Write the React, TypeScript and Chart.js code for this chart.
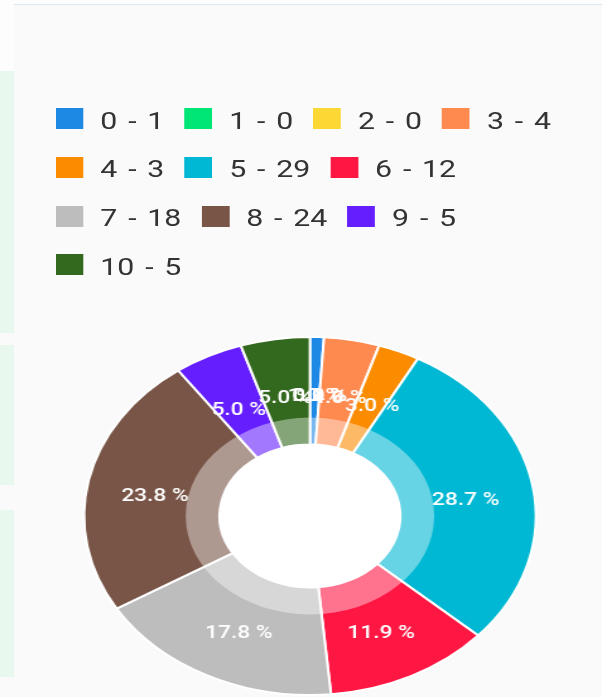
import React, { useEffect, useRef } from "react";
import { Chart, registerables } from "chart.js";

Chart.register(...registerables);

// ---- data ----
const categories = ["0", "1", "2", "3", "4", "5", "6", "7", "8", "9", "10"];
const values = [1, 0, 0, 4, 3, 29, 12, 18, 24, 5, 5];
const sliceColors = [
  "#1E88E5",
  "#00E676",
  "#FDD835",
  "#FF8A50",
  "#FB8C00",
  "#00B8D4",
  "#FF1744",
  "#BDBDBD",
  "#795548",
  "#651FFF",
  "#33691E",
];
const legendLabels = categories.map((c, i) => `${c} - ${values[i]}`);

// natural (unstretched) width; the screenshot is stretched horizontally
const NAT_W = 477;
const NAT_H = 697;
const SX = 602 / NAT_W;

export default function App() {
  const canvasRef = useRef<HTMLCanvasElement | null>(null);
  const legendRef = useRef<HTMLDivElement | null>(null);

  useEffect(() => {
    const canvas = canvasRef.current;
    const legendEl = legendRef.current;
    if (!canvas || !legendEl) return;

    const htmlLegend = {
      id: "htmlLegend",
      afterUpdate(chart: any) {
        while (legendEl.firstChild) legendEl.removeChild(legendEl.firstChild);
        const items = chart.options.plugins.legend.labels.generateLabels(chart);
        items.forEach((item: any) => {
          const row = document.createElement("div");
          row.style.display = "flex";
          row.style.alignItems = "center";
          row.style.height = "48.7px";
          const box = document.createElement("span");
          box.style.display = "inline-block";
          box.style.width = "21.9px";
          box.style.height = "21px";
          box.style.background = item.fillStyle;
          box.style.marginRight = "13.5px";
          box.style.flex = "0 0 auto";
          const txt = document.createElement("span");
          txt.textContent = item.text;
          txt.style.font = "400 24px Roboto, 'Noto Sans', sans-serif";
          txt.style.wordSpacing = "2.6px";
          txt.style.color = "#333333";
          txt.style.whiteSpace = "nowrap";
          txt.style.transform = "translateY(2px)";
          row.appendChild(box);
          row.appendChild(txt);
          legendEl.appendChild(row);
        });
      },
    };

    const ringAndLabels = {
      id: "ringAndLabels",
      beforeDatasetsDraw(chart: any) {
        const arcs = chart.getDatasetMeta(0).data as any[];
        if (!arcs.length) return;
        const p = arcs[0].getProps(["x", "y", "innerRadius"], true);
        const ctx = chart.ctx;
        ctx.save();
        ctx.beginPath();
        ctx.arc(p.x, p.y, p.innerRadius, 0, Math.PI * 2);
        ctx.fillStyle = "#ffffff";
        ctx.fill();
        ctx.restore();
      },
      afterDatasetsDraw(chart: any) {
        const arcs = chart.getDatasetMeta(0).data as any[];
        if (!arcs.length) return;
        const ctx = chart.ctx;
        const p0 = arcs[0].getProps(["x", "y", "innerRadius", "outerRadius"], true);
        // translucent ring
        ctx.save();
        ctx.beginPath();
        ctx.arc(p0.x, p0.y, p0.outerRadius * 0.55, 0, Math.PI * 2);
        ctx.arc(p0.x, p0.y, p0.innerRadius, Math.PI * 2, 0, true);
        ctx.closePath();
        ctx.fillStyle = "rgba(255,255,255,0.4)";
        ctx.fill();
        ctx.restore();
        // value labels
        const data = chart.data.datasets[0].data as number[];
        const total = data.reduce((a, b) => a + b, 0);
        ctx.save();
        ctx.font = "500 18px Roboto, 'Noto Sans', sans-serif";
        ctx.fillStyle = "#ffffff";
        ctx.textAlign = "center";
        ctx.textBaseline = "middle";
        arcs.forEach((arc, i) => {
          const a = arc.getProps(["x", "y", "startAngle", "endAngle", "innerRadius", "outerRadius"], true);
          const mid = (a.startAngle + a.endAngle) / 2;
          const r = (a.innerRadius + a.outerRadius) / 2;
          const tx = a.x + Math.cos(mid) * r;
          const ty = a.y + Math.sin(mid) * r + 6;
          const pct = total ? (data[i] / total) * 100 : 0;
          ctx.fillText(`${pct.toFixed(1)} %`, tx, ty);
        });
        ctx.restore();
      },
    };

    const chart = new Chart(canvas, {
      type: "doughnut",
      data: {
        labels: legendLabels,
        datasets: [
          {
            data: values,
            backgroundColor: sliceColors,
            borderColor: "#ffffff",
            borderWidth: 2,
            hoverOffset: 0,
          },
        ],
      },
      options: {
        responsive: false,
        animation: false,
        cutout: "40%",
        layout: { padding: { left: 65.6, right: 51.4, top: 336, bottom: 1 } },
        plugins: {
          legend: { display: false },
          tooltip: { enabled: false },
        },
      },
      plugins: [htmlLegend, ringAndLabels],
    });

    return () => {
      chart.destroy();
    };
  }, []);

  const mint = "#e9f8ee";

  return (
    <div
      style={{
        position: "absolute",
        left: 0,
        top: 0,
        width: 602,
        height: 697,
        overflow: "hidden",
        background: "#fafafa",
      }}
    >
      {/* screenshot background details */}
      <div style={{ position: "absolute", left: 0, top: 0, width: 602, height: 4, background: "#fdfdfd" }} />
      <div style={{ position: "absolute", left: 13, top: 4, width: 589, height: 1, background: "#d3ebf4" }} />
      <div style={{ position: "absolute", left: 0, top: 0, width: 14, height: 71, background: "#fdfdfd" }} />
      <div style={{ position: "absolute", left: 0, top: 71, width: 14, height: 262, background: mint }} />
      <div style={{ position: "absolute", left: 0, top: 345, width: 14, height: 140, background: mint }} />
      <div style={{ position: "absolute", left: 0, top: 510, width: 14, height: 167, background: mint }} />

      <div
        style={{
          position: "absolute",
          left: 0,
          top: 0,
          width: NAT_W,
          height: NAT_H,
          transform: `scaleX(${SX})`,
          transformOrigin: "0 0",
        }}
      >
        <canvas
          ref={canvasRef}
          width={NAT_W}
          height={NAT_H}
          style={{ position: "absolute", left: 0, top: 0 }}
        />
        <div
          ref={legendRef}
          style={{
            position: "absolute",
            left: 44.1,
            top: 94.35,
            width: 420,
            display: "flex",
            flexWrap: "wrap",
            columnGap: 16,
            rowGap: 0,
          }}
        />
      </div>
    </div>
  );
}
